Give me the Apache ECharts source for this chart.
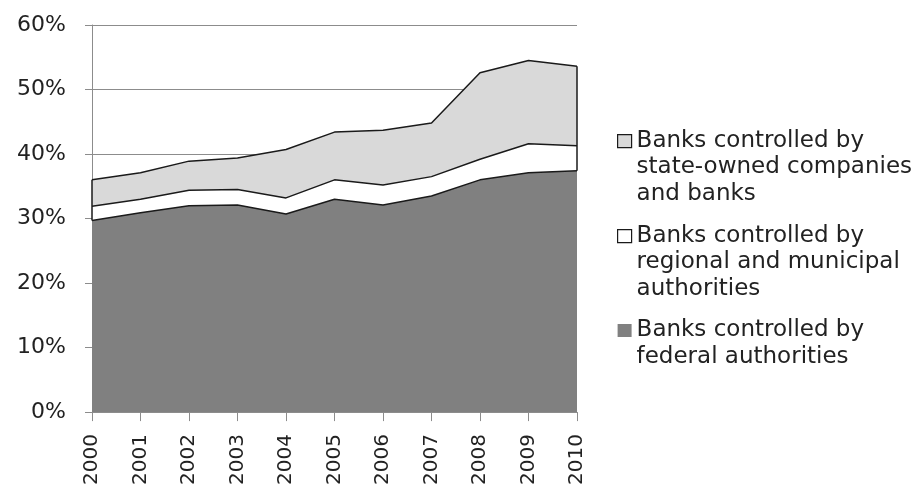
<!DOCTYPE html>
<html>
<head>
<meta charset="utf-8">
<script src="https://cdn.jsdelivr.net/npm/echarts@6/dist/echarts.min.js"></script>
<style>
html,body{margin:0;padding:0;background:#fff;}
#chart{width:919px;height:488px;}
</style>
</head>
<body>
<div id="chart"></div>
<script>
var categories = ['2000','2001','2002','2003','2004','2005','2006','2007','2008','2009','2010'];
// shares of banking assets, percent (stacked)
var federal    = [29.7, 30.9, 32.0, 32.1, 30.7, 33.0, 32.1, 33.5, 36.0, 37.1, 37.4];
var regional   = [2.2, 2.1, 2.4, 2.4, 2.5, 3.0, 3.1, 3.0, 3.2, 4.5, 3.9];
var stateOwned = [4.1, 4.1, 4.5, 4.9, 7.5, 7.4, 8.5, 8.3, 13.4, 12.9, 12.3];
var seriesNames = [
  'Banks controlled by\nstate-owned companies\nand banks',
  'Banks controlled by\nregional and municipal\nauthorities',
  'Banks controlled by\nfederal authorities'
];
var yTicks = [0, 10, 20, 30, 40, 50, 60];

var FONT = 'DejaVu Sans';
var EDGE = '#1a1a1a';
var GRID = '#8c8c8c';
var TXT = '#222';
var LH = 26.6;

var last = categories.length - 1;
function topOf(i){ return federal[i] + regional[i] + stateOwned[i]; }

var boxH = LH * 3;
var iconPath = 'path://M0,0 M14,' + boxH + ' M0,7 L14,7 L14,20 L0,20 Z';

var option = {
  animation: false,
  backgroundColor: '#fff',
  grid: { left: 92, right: 342, top: 25, bottom: 66, containLabel: false },
  xAxis: {
    type: 'category',
    data: categories,
    boundaryGap: false,
    axisLine: { show: true, lineStyle: { color: GRID, width: 1 } },
    axisTick: { show: true, length: 9, lineStyle: { color: GRID } },
    axisLabel: { rotate: 90, interval: 0, margin: 22, fontFamily: FONT, fontSize: 20, color: TXT },
    splitLine: { show: false }
  },
  yAxis: {
    type: 'value',
    min: yTicks[0], max: yTicks[yTicks.length - 1], interval: yTicks[1] - yTicks[0],
    axisLine: { show: true, lineStyle: { color: GRID, width: 1 } },
    axisTick: { show: true, length: 7, lineStyle: { color: GRID } },
    axisLabel: { formatter: '{value}%', margin: 26, fontFamily: FONT, fontSize: 22, color: TXT },
    splitLine: { show: true, lineStyle: { color: GRID, width: 1 } }
  },
  legend: {
    orient: 'vertical',
    left: 617,
    top: 127,
    padding: 0,
    itemGap: 14,
    itemWidth: 14,
    itemHeight: boxH,
    selectedMode: false,
    symbolKeepAspect: true,
    formatter: function (name) {
      var n = name.split('\n').length;
      return n < 3 ? name + '\n ' : name;
    },
    textStyle: { fontFamily: FONT, fontSize: 23, color: TXT, lineHeight: LH },
    data: [
      { name: seriesNames[0], icon: iconPath, itemStyle: { color: '#d9d9d9', borderColor: EDGE, borderWidth: 1.2 } },
      { name: seriesNames[1], icon: iconPath, itemStyle: { color: '#ffffff', borderColor: EDGE, borderWidth: 1.2 } },
      { name: seriesNames[2], icon: iconPath, itemStyle: { color: '#808080', borderColor: '#808080', borderWidth: 0 } }
    ]
  },
  series: [
    {
      name: seriesNames[2], type: 'line', stack: 'total', z: 4,
      data: federal, symbol: 'none', smooth: false,
      lineStyle: { color: EDGE, width: 1.5 },
      itemStyle: { color: '#808080' },
      areaStyle: { color: '#808080', opacity: 1 }
    },
    {
      name: seriesNames[1], type: 'line', stack: 'total', z: 3,
      data: regional, symbol: 'none', smooth: false,
      lineStyle: { color: EDGE, width: 1.5 },
      itemStyle: { color: '#ffffff' },
      areaStyle: { color: '#ffffff', opacity: 1 }
    },
    {
      name: seriesNames[0], type: 'line', stack: 'total', z: 2,
      data: stateOwned, symbol: 'none', smooth: false,
      lineStyle: { color: EDGE, width: 1.5 },
      itemStyle: { color: '#d9d9d9' },
      areaStyle: { color: '#d9d9d9', opacity: 1 },
      markLine: {
        silent: true, symbol: 'none', label: { show: false },
        lineStyle: { color: EDGE, width: 1.5, type: 'solid' },
        data: [
          [ { coord: [categories[0], federal[0]] }, { coord: [categories[0], topOf(0)] } ],
          [ { coord: [categories[last], federal[last]] }, { coord: [categories[last], topOf(last)] } ]
        ]
      }
    }
  ]
};

var chart = echarts.init(document.getElementById('chart'), null, { renderer: 'canvas' });
chart.setOption(option);
</script>
</body>
</html>
